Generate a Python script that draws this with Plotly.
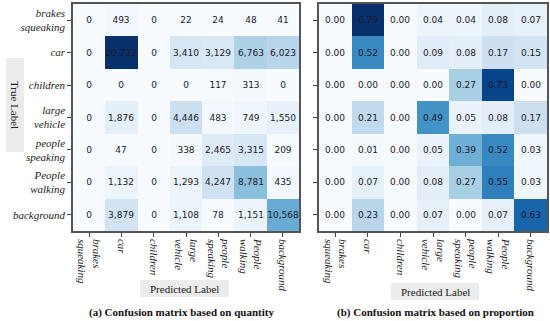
import plotly.graph_objects as go

categories = ["brakes<br>squeaking", "car", "children", "large<br>vehicle",
              "people<br>speaking", "People<br>walking", "background"]

counts = [
    [0, 493, 0, 22, 24, 48, 41],
    [0, 20732, 0, 3410, 3129, 6763, 6023],
    [0, 0, 0, 0, 117, 313, 0],
    [0, 1876, 0, 4446, 483, 749, 1550],
    [0, 47, 0, 338, 2465, 3315, 209],
    [0, 1132, 0, 1293, 4247, 8781, 435],
    [0, 3879, 0, 1108, 78, 1151, 10568],
]

proportions = [
    [0.00, 0.79, 0.00, 0.04, 0.04, 0.08, 0.07],
    [0.00, 0.52, 0.00, 0.09, 0.08, 0.17, 0.15],
    [0.00, 0.00, 0.00, 0.00, 0.27, 0.73, 0.00],
    [0.00, 0.21, 0.00, 0.49, 0.05, 0.08, 0.17],
    [0.00, 0.01, 0.00, 0.05, 0.39, 0.52, 0.03],
    [0.00, 0.07, 0.00, 0.08, 0.27, 0.55, 0.03],
    [0.00, 0.23, 0.00, 0.07, 0.00, 0.07, 0.63],
]

W, H = 550, 321
idx = list(range(len(categories)))
italic_labels = ["<i>" + c.replace("<br>", "</i><br><i>") + "</i>" for c in categories]

count_text = [[f"{v:,}" for v in row] for row in counts]
prop_text = [[f"{v:.2f}" for v in row] for row in proportions]

fig = go.Figure()
fig.add_trace(go.Heatmap(
    z=counts, x=idx, y=idx, text=count_text, texttemplate="%{text}",
    textfont=dict(family="DejaVu Sans", size=9, color="#1a1a2a"),
    colorscale="Blues", zmin=0, zmax=max(max(r) for r in counts),
    showscale=False, xaxis="x", yaxis="y", xgap=0, ygap=0,
))
fig.add_trace(go.Heatmap(
    z=proportions, x=idx, y=idx, text=prop_text, texttemplate="%{text}",
    textfont=dict(family="DejaVu Sans", size=9, color="#1a1a2a"),
    colorscale="Blues", zmin=0, zmax=max(max(r) for r in proportions),
    showscale=False, xaxis="x2", yaxis="y2",
))

def px(x):
    return x / W

def py(y):
    return 1 - y / H

tickfont = dict(family="Liberation Serif", size=11, color="#222")
axis_common = dict(
    showgrid=False, zeroline=False, ticks="outside", ticklen=4, tickwidth=1,
    tickcolor="#444", showline=True, linecolor="#555", linewidth=1.5, mirror=True,
    tickmode="array", tickvals=idx, ticktext=italic_labels, tickfont=tickfont,
)

fig.update_layout(
    width=W, height=H, margin=dict(l=0, r=0, t=0, b=0),
    paper_bgcolor="white", plot_bgcolor="white",
    xaxis=dict(domain=[px(73), px(299)], anchor="y", tickangle=90,
               range=[-0.5, 6.5], **axis_common),
    yaxis=dict(domain=[py(231), py(4)], anchor="x", range=[6.5, -0.5],
               **axis_common),
    xaxis2=dict(domain=[px(319), px(547)], anchor="y2", tickangle=90,
                range=[-0.5, 6.5], **axis_common),
    yaxis2=dict(domain=[py(231), py(4)], anchor="x2", range=[6.5, -0.5],
                **{**axis_common, "showticklabels": False}),
)

shapes = [
    dict(type="rect", xref="paper", yref="paper", x0=px(6), x1=px(24),
         y0=py(152), y1=py(58), fillcolor="#ececec", line_width=0, layer="below"),
    dict(type="rect", xref="paper", yref="paper", x0=px(140), x1=px(229),
         y0=py(297), y1=py(280), fillcolor="#ececec", line_width=0, layer="below"),
    dict(type="rect", xref="paper", yref="paper", x0=px(391), x1=px(479),
         y0=py(300), y1=py(283), fillcolor="#ececec", line_width=0, layer="below"),
]
fig.update_layout(shapes=shapes)

lab_font = dict(family="Liberation Serif", size=11, color="#222")
cap_font = dict(family="Liberation Serif", size=11, color="#111")
annotations = [
    dict(text="True Label", xref="paper", yref="paper", x=px(15), y=py(105),
         showarrow=False, textangle=90, font=lab_font, xanchor="center", yanchor="middle"),
    dict(text="Predicted Label", xref="paper", yref="paper", x=px(184.5), y=py(288.5),
         showarrow=False, font=lab_font, xanchor="center", yanchor="middle"),
    dict(text="Predicted Label", xref="paper", yref="paper", x=px(435), y=py(291.5),
         showarrow=False, font=lab_font, xanchor="center", yanchor="middle"),
    dict(text="<b>(a) Confusion matrix based on quantity</b>", xref="paper", yref="paper",
         x=px(181), y=py(312), showarrow=False, font=cap_font,
         xanchor="center", yanchor="middle"),
    dict(text="<b>(b) Confusion matrix based on proportion</b>", xref="paper", yref="paper",
         x=px(435), y=py(312), showarrow=False, font=cap_font,
         xanchor="center", yanchor="middle"),
]
fig.update_layout(annotations=annotations)

fig.write_html("out.html", config={"displayModeBar": False},
               post_script="document.body.style.margin='0';")
